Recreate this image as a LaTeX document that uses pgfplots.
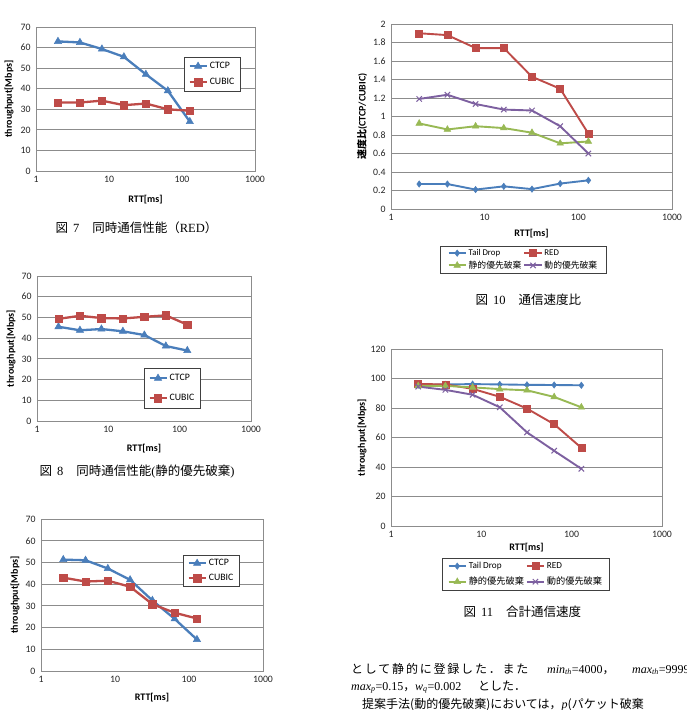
\documentclass[border=0pt]{standalone}
\usepackage{pgfplots}
\pgfplotsset{compat=1.18}
\usepackage{fontspec}
\setmainfont{Carlito}
\newfontfamily\jp{Noto Sans CJK JP}
\newfontfamily\serif{Liberation Serif}
\pgfkeys{/pgf/number format/assume math mode=true}

\definecolor{xblue}{HTML}{4A7EBB}
\definecolor{xred}{HTML}{BE4B48}
\definecolor{xgreen}{HTML}{98B954}
\definecolor{xpurple}{HTML}{7D60A0}
\definecolor{xgrid}{HTML}{8C8C8C}

\newcommand\lblfont{\bfseries\fontsize{10}{12}\selectfont}
\newcommand\capfont{\fontsize{12.5}{14}\selectfont}

% series styles (plain TikZ, so the legend images can use them too)
\tikzset{
  s ctcp/.style={xblue, line width=2.3pt, mark=triangle*, mark size=4.2pt,
    mark options={solid, fill=xblue, line width=0.5pt}},
  s cubic/.style={xred, line width=2.3pt, mark=square*, mark size=3.7pt,
    mark options={solid, fill=xred, line width=0.5pt}},
  s tdrop/.style={xblue, line width=1.9pt, mark=diamond*, mark size=3.2pt,
    mark options={solid, fill=xblue, line width=0.5pt}},
  s red/.style={xred, line width=1.9pt, mark=square*, mark size=3.5pt,
    mark options={solid, fill=xred, line width=0.5pt}},
  s sprio/.style={xgreen, line width=1.9pt, mark=triangle*, mark size=3.8pt,
    mark options={solid, fill=xgreen, line width=0.5pt}},
  s dprio/.style={xpurple, line width=1.9pt, mark=x, mark size=3.8pt,
    mark options={solid, line width=1pt}},
}

% common look of all five charts
\pgfplotsset{every axis/.append style={
    scale only axis,
    xmin=1, xmax=1000,
    xtick={1,10,100,1000}, xticklabels={1,10,100,1000},
    xminorticks=false, ymin=0,
    major tick length=0pt,
    ymajorgrids,
    grid style={xgrid, line width=0.9pt},
    axis line style={xgrid, line width=0.9pt},
    tick label style={font=\fontsize{9.8}{11}\selectfont, text=black!85},
    yticklabel style={xshift=-2pt},
    xticklabel style={yshift=-2pt},
    xlabel={RTT[ms]},
    legend cell align=left,
  }}

\begin{document}
\begin{tikzpicture}
\useasboundingbox (0pt,0pt) rectangle (687pt,-710pt);
\clip (0pt,0pt) rectangle (687pt,-710pt);
\fill[white] (0pt,0pt) rectangle (687pt,-710pt);

% ---------- Fig. 7: simultaneous throughput, RED ----------
\begin{semilogxaxis}[
  at={(36pt,-171pt)}, anchor=south west, width=219pt, height=144pt,
  ymax=70, ytick={0,10,...,70}, ylabel={throughput[Mbps]},
  every axis y label/.style={at={(axis description cs:-0.123,0.5)}, rotate=90, anchor=center, font=\lblfont},
  every axis x label/.style={at={(axis description cs:0.5,-0.201)}, anchor=center, font=\lblfont},
  legend style={draw=black!75, line width=0.7pt, font=\fontsize{9.8}{11}\selectfont,
    at={(axis description cs:0.676,0.792)}, anchor=north west,
    inner xsep=4pt, inner ysep=3pt, row sep=4pt}]
\addplot[s ctcp] coordinates {(2,63) (4,62.5) (8,59.3) (16,55.5) (32,47) (64,39) (128,24)};
\addlegendentry{CTCP}
\addplot[s cubic] coordinates {(2,33.3) (4,33.3) (8,34.2) (16,32) (32,32.8) (64,30) (128,29.3)};
\addlegendentry{CUBIC}
\end{semilogxaxis}
\node[anchor=west, font=\capfont] at (52pt,-228pt)
  {{\jp 図}\hspace{5pt}{\serif 7}\hspace{13pt}{\jp 同時通信性能（}{\serif RED}{\jp ）}};

% ---------- Fig. 8: simultaneous throughput, static priority drop ----------
\begin{semilogxaxis}[
  at={(37pt,-421pt)}, anchor=south west, width=214pt, height=145pt,
  ymax=70, ytick={0,10,...,70}, ylabel={throughput[Mbps]},
  every axis y label/.style={at={(axis description cs:-0.121,0.5)}, rotate=90, anchor=center, font=\lblfont},
  every axis x label/.style={at={(axis description cs:0.5,-0.193)}, anchor=center, font=\lblfont},
  legend style={draw=black!75, line width=0.7pt, font=\fontsize{9.8}{11}\selectfont,
    at={(axis description cs:0.5,0.366)}, anchor=north west,
    inner xsep=4pt, inner ysep=4pt, row sep=8pt}]
\addplot[s ctcp] coordinates {(2,45.5) (4,43.8) (8,44.4) (16,43.3) (32,41.5) (64,36.2) (128,34)};
\addlegendentry{CTCP}
\addplot[s cubic] coordinates {(2,49.3) (4,50.8) (8,49.7) (16,49.5) (32,50.3) (64,51) (128,46.5)};
\addlegendentry{CUBIC}
\end{semilogxaxis}
\node[anchor=west, font=\capfont] at (36pt,-472pt)
  {{\jp 図}\hspace{5pt}{\serif 8}\hspace{13pt}{\jp 同時通信性能}{\serif (}{\jp 静的優先破棄}{\serif )}};

% ---------- Fig. 9: simultaneous throughput, dynamic priority drop ----------
\begin{semilogxaxis}[
  at={(41pt,-671pt)}, anchor=south west, width=222pt, height=152pt,
  ymax=70, ytick={0,10,...,70}, ylabel={throughput[Mbps]},
  every axis y label/.style={at={(axis description cs:-0.117,0.5)}, rotate=90, anchor=center, font=\lblfont},
  every axis x label/.style={at={(axis description cs:0.5,-0.178)}, anchor=center, font=\lblfont},
  legend style={draw=black!75, line width=0.7pt, font=\fontsize{9.8}{11}\selectfont,
    at={(axis description cs:0.64,0.763)}, anchor=north west,
    inner xsep=4pt, inner ysep=2pt, row sep=3pt}]
\addplot[s ctcp] coordinates {(2,51.3) (4,51) (8,47.2) (16,42) (32,32.5) (64,24) (128,14.5)};
\addlegendentry{CTCP}
\addplot[s cubic] coordinates {(2,43) (4,41.2) (8,41.6) (16,38.8) (32,30.8) (64,26.8) (128,24.2)};
\addlegendentry{CUBIC}
\end{semilogxaxis}

% ---------- Fig. 10: throughput ratio CTCP/CUBIC ----------
\begin{semilogxaxis}[
  at={(391pt,-209pt)}, anchor=south west, width=281pt, height=185pt,
  ymax=2, ytick={0,0.2,...,2.01},
  ylabel={{\jp\bfseries 速度比}(CTCP/CUBIC)},
  every axis y label/.style={at={(axis description cs:-0.103,0.5)}, rotate=90, anchor=center, font=\lblfont},
  every axis x label/.style={at={(axis description cs:0.5,-0.135)}, anchor=center, font=\lblfont},
  legend columns=2,
  legend style={draw=black!75, line width=0.7pt, font=\fontsize{8.8}{10}\selectfont,
    at={(axis description cs:0.4715,-0.2)}, anchor=north,
    inner xsep=7pt, inner ysep=1pt, row sep=0pt,
    /tikz/every odd column/.append style={text width=69pt}}]
\addplot[s tdrop] coordinates {(2,0.27) (4,0.27) (8,0.21) (16,0.245) (32,0.215) (64,0.275) (128,0.31)};
\addlegendentry{Tail Drop}
\addplot[s red] coordinates {(2,1.9) (4,1.88) (8,1.74) (16,1.74) (32,1.43) (64,1.30) (128,0.815)};
\addlegendentry{RED}
\addplot[s sprio] coordinates {(2,0.925) (4,0.86) (8,0.895) (16,0.875) (32,0.825) (64,0.71) (128,0.73)};
\addlegendentry{\jp 静的優先破棄}
\addplot[s dprio] coordinates {(2,1.19) (4,1.235) (8,1.135) (16,1.075) (32,1.065) (64,0.895) (128,0.60)};
\addlegendentry{\jp 動的優先破棄}
\end{semilogxaxis}
\node[anchor=west, font=\capfont] at (472pt,-300pt)
  {{\jp 図}\hspace{5pt}{\serif 10}\hspace{13pt}{\jp 通信速度比}};

% ---------- Fig. 11: aggregate throughput ----------
\begin{semilogxaxis}[
  at={(391pt,-526pt)}, anchor=south west, width=271pt, height=177pt,
  ymax=120, ytick={0,20,...,120},
  ylabel={throughput[Mbps]},
  every axis y label/.style={at={(axis description cs:-0.107,0.5)}, rotate=90, anchor=center, font=\lblfont},
  every axis x label/.style={at={(axis description cs:0.5,-0.124)}, anchor=center, font=\lblfont},
  legend columns=2,
  legend style={draw=black!75, line width=0.7pt, font=\fontsize{9.2}{10}\selectfont,
    at={(axis description cs:0.498,-0.18)}, anchor=north,
    inner xsep=5pt, inner ysep=2pt, row sep=3pt,
    /tikz/every odd column/.append style={text width=64pt}}]
\addplot[s tdrop] coordinates {(2,95.5) (4,96) (8,96.2) (16,96) (32,95.7) (64,95.6) (128,95.4)};
\addlegendentry{Tail Drop}
\addplot[s red] coordinates {(2,96.3) (4,96) (8,93) (16,87.6) (32,79.6) (64,69) (128,53)};
\addlegendentry{RED}
\addplot[s sprio] coordinates {(2,95) (4,95) (8,94) (16,92.8) (32,92) (64,87.5) (128,80.5)};
\addlegendentry{\jp 静的優先破棄}
\addplot[s dprio] coordinates {(2,94.5) (4,92.3) (8,89) (16,80.5) (32,63.5) (64,51) (128,38.8)};
\addlegendentry{\jp 動的優先破棄}
\end{semilogxaxis}
\node[anchor=west, font=\capfont] at (460pt,-612pt)
  {{\jp 図}\hspace{5pt}{\serif 11}\hspace{13pt}{\jp 合計通信速度}};

% ---------- body text ----------
\begin{scope}[every node/.style={anchor=base west, inner sep=0pt, font=\fontsize{12}{14}\selectfont}]
\node at (351pt,-673pt) {\jp\addfontfeature{LetterSpace=15}として静的に登録した．また};
\node at (547pt,-673pt) {{\serif\textit{min}\textsubscript{\textit{th}}=4000}{\jp ，}};
\node at (632pt,-673pt) {\serif\textit{max}\textsubscript{\textit{th}}=9999};
\node at (351pt,-690pt) {{\serif\textit{max}\textsubscript{\textit{p}}=0.15}{\jp ，}};
\node at (415pt,-690pt) {\serif\textit{w}\textsubscript{\textit{q}}=0.002};
\node at (478pt,-690pt) {\jp とした．};
\node at (362pt,-708pt) {\jp 提案手法(動的優先破棄)においては，{\serif\textit{p}}(パケット破棄};
\end{scope}
\end{tikzpicture}
\end{document}
